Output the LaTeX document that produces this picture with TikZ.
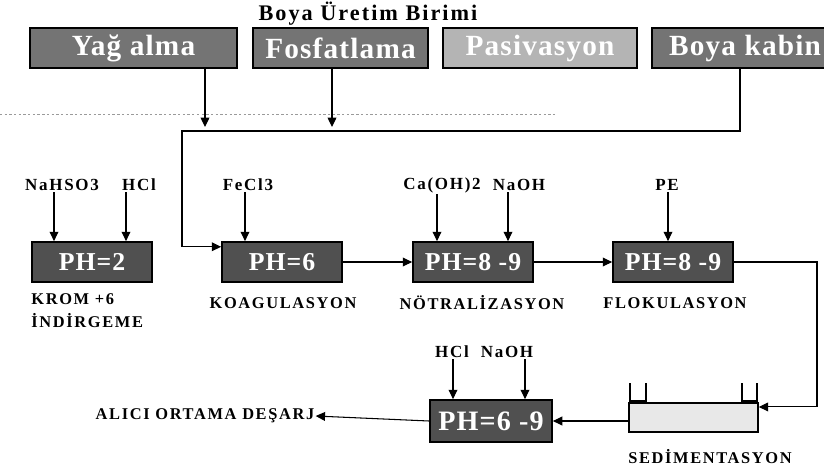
\documentclass[tikz,border=0pt]{standalone}
\usepackage{fontspec}
\setmainfont{Liberation Serif}
\newfontfamily\titlefont[LetterSpace=9]{Liberation Serif}
\newfontfamily\boxfont[LetterSpace=4]{Liberation Serif}
\newfontfamily\labfont[LetterSpace=10]{Liberation Serif}
\usepackage{xcolor}
\usetikzlibrary{arrows.meta,calc}
\definecolor{boxmid}{HTML}{747474}
\definecolor{boxdark}{HTML}{505050}
\definecolor{boxlight}{HTML}{B4B4B4}
\definecolor{tankfill}{HTML}{E8E8E8}
\definecolor{dotline}{HTML}{9A9A9A}

\begin{document}
\begin{tikzpicture}[x=0.03cm, y=-0.03cm,
        topbox/.style={draw=black, line width=1.4pt, fill=boxmid, text=white,
            minimum height=1.2cm, inner sep=0pt,
            font=\boxfont\bfseries\fontsize{25pt}{27pt}\selectfont},
        phbox/.style={draw=black, line width=1.5pt, fill=boxdark, text=white,
            minimum width=3.6cm, minimum height=1.2cm, inner sep=0pt,
            font=\boxfont\bfseries\fontsize{22pt}{24pt}\selectfont},
        chem/.style={inner sep=1pt, font=\labfont\bfseries\fontsize{14.5pt}{16pt}\selectfont},
        stage/.style={inner sep=1pt, align=left, font=\labfont\bfseries\fontsize{14pt}{20pt}\selectfont},
        pipe/.style={line width=0.9pt},
        flow/.style={pipe, -{Triangle[length=8pt,width=7.5pt]}}]
        \useasboundingbox (0,0) rectangle (824,470);

        % ----------------------------------------------------
        % PAINT SHOP — SOURCE UNITS
        % ----------------------------------------------------
        \node[inner sep=0pt, font=\titlefont\bfseries\fontsize{19pt}{21pt}\selectfont] (title) at (368,14) {Boya Üretim Birimi};
        \node[topbox, minimum width=6.21cm] (yag) at (133.5,48) {Yağ alma};
        \node[topbox, minimum width=5.25cm] (fosfat) at (340.5,48) {Fosfatlama};
        \node[topbox, fill=boxlight, minimum width=5.82cm] (pasiv) at (540,48) {Pasivasyon};
        \node[topbox, minimum width=5.58cm] (kabin) at (745,48) {Boya kabin};

        \draw[dotline, line width=0.6pt, dash pattern=on 2pt off 2pt] (0,114) -- (557,114);

        % collector line
        \coordinate (yagdrop) at (205,127);
        \coordinate (fosdrop) at (332,127);
        \coordinate (colL) at (182,131);
        \coordinate (colR) at (740,131);
        \draw[flow] (yagdrop |- yag.south) -- (yagdrop);
        \draw[flow] (fosdrop |- fosfat.south) -- (fosdrop);

        % ----------------------------------------------------
        % TREATMENT LINE
        % ----------------------------------------------------
        \node[phbox] (ph2) at (92,262) {PH=2};
        \node[phbox] (ph6) at (282,262) {PH=6};
        \node[phbox] (ph89a) at (473,262) {PH=8 -9};
        \node[phbox] (ph89b) at (673,262) {PH=8 -9};
        \node[phbox, minimum width=3.66cm, minimum height=1.26cm,
            font=\boxfont\bfseries\fontsize{24pt}{26pt}\selectfont] (ph69) at (491,421) {PH=6 -9};

        \coordinate (ph6in) at ([yshift=13pt]ph6.west);
        \draw[flow] (kabin.south -| colR) -- (colR) -- (colL) |- (ph6in);
        \draw[flow] (ph6) -- (ph89a);
        \draw[flow] (ph89a) -- (ph89b);

        % chemicals
        \node[chem] (nahso) at (62,185) {NaHSO3};
        \node[chem] (hclA) at (139,185) {HCl};
        \node[chem] (fecl) at (248,185) {FeCl3};
        \node[chem] (caoh) at (442,185) {Ca(OH)2};
        \node[chem] (naohA) at (519,185) {NaOH};
        \node[chem] (pe) at (667,185) {PE};
        \node[chem] (hclB) at (452,352) {HCl};
        \node[chem] (naohB) at (507,352) {NaOH};
        \foreach \lab/\tgt/\x in {nahso/ph2/54, hclA/ph2/126, fecl/ph6/245, caoh/ph89a/437,
                naohA/ph89a/508, pe/ph89b/668, hclB/ph69/453, naohB/ph69/525}
            \draw[flow] (\lab.south -| \x,0) -- (\tgt.north -| \x,0);

        % stage names
        \node[stage, anchor=north west] (krom) at (30,292) {KROM +6\\İNDİRGEME};
        \node[stage] (koag) at (283,303) {KOAGULASYON};
        \node[stage] (notr) at (482,303) {NÖTRALİZASYON};
        \node[stage] (flok) at (675,303) {FLOKULASYON};

        % ----------------------------------------------------
        % SEDIMENTATION & DISCHARGE
        % ----------------------------------------------------
        \node[draw, line width=1.3pt, fill=tankfill, minimum width=3.87cm,
            minimum height=0.87cm, inner sep=0pt] (tank) at (693.5,417.5) {};
        \draw[pipe, line width=1.1pt] (630,383) -- (630,401) -- (646,401) -- (646,383);
        \draw[pipe, line width=1.1pt] (742,383) -- (742,401) -- (757,401) -- (757,383);
        \node[stage] (sedim) at (710,457) {SEDİMENTASYON};
        \node[stage] (alici) at (205,416) {ALICI ORTAMA DEŞARJ};

        \coordinate (rightx) at (817,0);
        \coordinate (tankin) at ([yshift=9pt]tank.east);
        \draw[flow] (ph89b.east) -- (ph89b.east -| rightx) |- (tankin);
        \draw[flow] (tank.west |- ph69.east) -- (ph69.east);
        \draw[flow] (ph69.west) -- (alici.east);
\end{tikzpicture}
\end{document}
